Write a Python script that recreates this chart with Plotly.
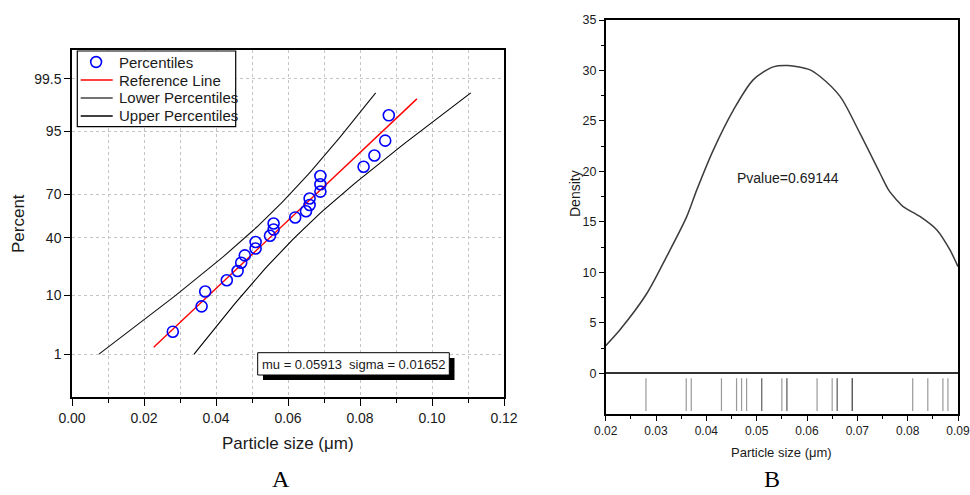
import math
from statistics import NormalDist

import plotly.graph_objects as go

# ---------------------------------------------------------------- data
particle_size = [0.028, 0.036, 0.037, 0.043, 0.046, 0.047, 0.048, 0.051,
                 0.051, 0.055, 0.056, 0.056, 0.062, 0.065, 0.066, 0.066,
                 0.069, 0.069, 0.069, 0.081, 0.084, 0.087, 0.088]
cumulative_percent = [2.7, 7.0, 11.3, 15.6, 19.9, 24.2, 28.5, 32.8, 37.1,
                      41.4, 45.7, 50.0, 54.3, 58.6, 62.9, 67.2, 71.5, 75.8,
                      80.1, 84.4, 88.7, 93.0, 97.3]
percent_ticks = [1, 10, 40, 70, 95, 99.5]
percent_range = [0.1, 99.9]
mu = 0.05913
sigma = 0.01652
ref_line_x = [0.0227, 0.0958]
band_percent_span = [1, 99]

density_x = [0.0200, 0.0228, 0.0282, 0.0321, 0.0361, 0.0381, 0.0414, 0.0454,
             0.0493, 0.0533, 0.0562, 0.0606, 0.0626, 0.0666, 0.0705, 0.0745,
             0.0762, 0.0778, 0.0791, 0.0825, 0.0858, 0.0884, 0.0900]
density_y = [2.74, 4.29, 7.93, 11.56, 15.52, 18.17, 22.14, 26.10, 29.07,
             30.36, 30.49, 30.06, 29.40, 27.41, 23.79, 19.82, 18.17, 17.18,
             16.51, 15.52, 14.20, 12.22, 10.57]
density_ticks = [0, 5, 10, 15, 20, 25, 30, 35]
p_value = 0.69144

legend_labels = ["Percentiles", "Reference Line", "Lower Percentiles",
                 "Upper Percentiles"]

# ---------------------------------------------------------------- helpers
W, H = 970, 495
nd = NormalDist()


def z_of(pct):
    return nd.inv_cdf(pct / 100.0)


def px(x):
    return x / W


def py(y):
    return 1 - y / H


FONT_A = "Liberation Sans, Arial, sans-serif"
FONT_B = "Liberation Sans Narrow, Arial Narrow, Liberation Sans, Arial, sans-serif"
SERIF = "Liberation Serif, Times New Roman, serif"
INK = "#1a1a1a"
GRID = "#c4c4c4"
BLUE = "#0000ff"
RED = "#ff0000"

# normal reference line and 95% confidence bands for the percentiles
n = len(particle_size)
ref_z = [(x - mu) / sigma for x in ref_line_x]

z_lo, z_hi = z_of(band_percent_span[0]), z_of(band_percent_span[1])
steps = 80
band_z = [z_lo + (z_hi - z_lo) * i / steps for i in range(steps + 1)]
half_width = [1.96 * sigma * math.sqrt(1.0 / n + z * z / (2.0 * (n - 1))) for z in band_z]
lower_x = [mu + sigma * z - h for z, h in zip(band_z, half_width)]
upper_x = [mu + sigma * z + h for z, h in zip(band_z, half_width)]

fig = go.Figure()

# ---------------------------------------------------------------- panel A
fig.add_trace(go.Scatter(
    x=lower_x, y=band_z, mode="lines", name=legend_labels[2],
    line=dict(color="#111111", width=1.1), xaxis="x", yaxis="y"))
fig.add_trace(go.Scatter(
    x=upper_x, y=band_z, mode="lines", name=legend_labels[3],
    line=dict(color="#000000", width=1.1), xaxis="x", yaxis="y"))
fig.add_trace(go.Scatter(
    x=ref_line_x, y=ref_z, mode="lines", name=legend_labels[1],
    line=dict(color=RED, width=1.4), xaxis="x", yaxis="y"))
fig.add_trace(go.Scatter(
    x=particle_size, y=[z_of(p) for p in cumulative_percent],
    mode="markers", name=legend_labels[0],
    marker=dict(symbol="circle-open", size=11, color=BLUE,
                line=dict(width=1.6, color=BLUE)),
    xaxis="x", yaxis="y"))

# ---------------------------------------------------------------- panel B
fig.add_trace(go.Scatter(
    x=density_x, y=density_y, mode="lines",
    line=dict(color="#3c3c3c", width=1.5, shape="spline", smoothing=0.8),
    xaxis="x2", yaxis="y2"))
for v in particle_size:
    fig.add_trace(go.Scatter(
        x=[v, v], y=[-0.5, -3.73], mode="lines",
        line=dict(color="rgba(70,70,70,0.55)", width=1.2),
        xaxis="x2", yaxis="y2", hoverinfo="skip"))

axis_common = dict(showline=True, linecolor="#000000", linewidth=1.5,
                   mirror=True, ticks="outside", tickcolor="#000000",
                   tickwidth=1.2, zeroline=False, automargin=False,
                   ticklabeloverflow="allow")

fig.update_layout(
    width=W, height=H,
    margin=dict(l=0, r=0, t=0, b=0, autoexpand=False),
    paper_bgcolor="white", plot_bgcolor="white",
    showlegend=False,
    xaxis=dict(domain=[px(72), px(504)], range=[0, 0.12], anchor="y",
               tick0=0, dtick=0.02, tickformat=".2f", ticklen=7,
               tickfont=dict(family=FONT_A, size=14, color=INK),
               showgrid=True, gridcolor=GRID, gridwidth=1, griddash="dot",
               minor=dict(dtick=0.01, ticks="outside", ticklen=4,
                          tickcolor="#000000", showgrid=True,
                          gridcolor=GRID, griddash="dot"),
               **axis_common),
    yaxis=dict(domain=[py(397), py(50)],
               range=[z_of(percent_range[0]), z_of(percent_range[1])],
               anchor="x", tickmode="array",
               tickvals=[z_of(p) for p in percent_ticks],
               ticktext=[f"{p:g}" for p in percent_ticks], ticklen=6,
               tickfont=dict(family=FONT_A, size=14, color=INK),
               showgrid=True, gridcolor=GRID, gridwidth=1, griddash="dot",
               **axis_common),
    xaxis2=dict(domain=[px(605.7), px(958)], range=[0.02, 0.09], anchor="y2",
                tick0=0.02, dtick=0.01, tickformat=".2f", ticklen=5,
                tickfont=dict(family=FONT_B, size=12, color=INK),
                showgrid=False,
                minor=dict(dtick=0.005, ticks="outside", ticklen=3,
                           tickcolor="#000000"),
                **axis_common),
    yaxis2=dict(domain=[py(414.3), py(20)], range=[-4.06, 35], anchor="x2",
                tickmode="array", tickvals=density_ticks, ticklen=5,
                tickfont=dict(family=FONT_B, size=12.5, color=INK),
                showgrid=False,
                minor=dict(tickmode="array",
                           tickvals=[t + 2.5 for t in density_ticks[:-1]],
                           ticks="outside", ticklen=3, tickcolor="#000000"),
                **{**axis_common, "zeroline": True},
                zerolinecolor="#333333", zerolinewidth=1.5),
)

shapes = []

# legend frame and samples for panel A
shapes.append(dict(type="rect", x0=px(77.3), x1=px(235.7), y0=py(126.7), y1=py(51),
                   fillcolor="white", line=dict(color="#000000", width=1.2)))
shapes.append(dict(type="circle", x0=px(90.7), x1=px(101.5), y0=py(67.4), y1=py(56.6),
                   line=dict(color=BLUE, width=1.6)))
legend_rows = [62, 80, 98, 116]
legend_line_colors = [RED, "#444444", "#000000"]
for row_y, colour in zip(legend_rows[1:], legend_line_colors):
    shapes.append(dict(type="line", x0=px(80.7), x1=px(112.7), y0=py(row_y), y1=py(row_y),
                       line=dict(color=colour, width=1.3)))

# fitted-parameter box with drop shadow
shapes.append(dict(type="rect", x0=px(263), x1=px(454.5), y0=py(380), y1=py(358),
                   fillcolor="#000000", line=dict(width=0)))
shapes.append(dict(type="rect", x0=px(257.7), x1=px(449.3), y0=py(375), y1=py(352.7),
                   fillcolor="white", line=dict(color="#000000", width=1)))
for s in shapes:
    s.update(xref="paper", yref="paper", layer="above")
fig.update_layout(shapes=shapes)

annotations = [
    dict(text=f"mu = {mu:.5f}  sigma = {sigma:.5f}", x=px(353.5), y=py(364),
         font=dict(family=FONT_A, size=13, color=INK)),
    dict(text="Percent", x=px(18), y=py(224), textangle=-90,
         font=dict(family=FONT_A, size=17, color=INK)),
    dict(text="Particle size (μm)", x=px(288), y=py(443),
         font=dict(family=FONT_A, size=17, color=INK)),
    dict(text="Density", x=px(575), y=py(194), textangle=-90,
         font=dict(family=FONT_A, size=14, color=INK)),
    dict(text="Particle size (μm)", x=px(781), y=py(452),
         font=dict(family=FONT_B, size=13, color=INK)),
    dict(text=f"Pvalue={p_value}", x=px(788), y=py(178),
         font=dict(family=FONT_B, size=14, color=INK)),
    dict(text="A", x=px(281), y=py(479), font=dict(family=SERIF, size=24, color="#000000")),
    dict(text="B", x=px(772), y=py(479), font=dict(family=SERIF, size=24, color="#000000")),
]
for label, row_y in zip(legend_labels, legend_rows):
    annotations.append(dict(text=label, x=px(116.5), y=py(row_y), xanchor="left",
                            font=dict(family=FONT_A, size=15, color=INK)))
for a in annotations:
    a.setdefault("xanchor", "center")
    a.update(xref="paper", yref="paper", showarrow=False, yanchor="middle")
fig.update_layout(annotations=annotations)

fig.write_html("out.html")
